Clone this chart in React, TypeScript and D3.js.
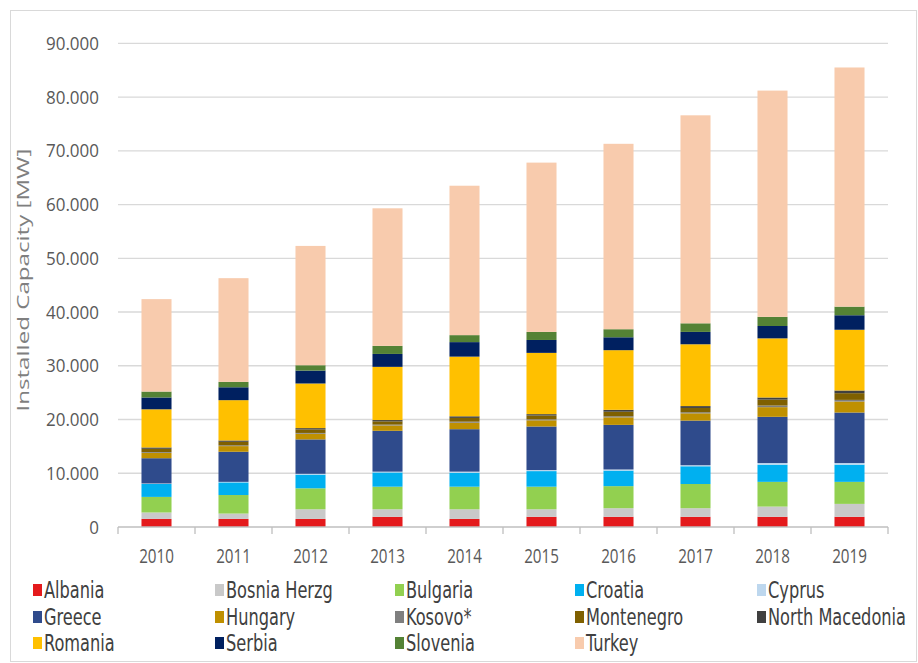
import { useEffect, useRef } from 'react'
import * as d3 from 'd3'

const years = ['2010', '2011', '2012', '2013', '2014', '2015', '2016', '2017', '2018', '2019']

// installed capacity per country, MW
const albania = [1500, 1500, 1500, 1900, 1500, 1900, 1900, 1900, 1900, 1900]
const bosnia = [1200, 1000, 1800, 1400, 1800, 1400, 1600, 1600, 1900, 2400]
const bulgaria = [2900, 3450, 3900, 4200, 4200, 4200, 4100, 4500, 4600, 4100]
const croatia = [2400, 2350, 2550, 2650, 2600, 2900, 2900, 3300, 3200, 3200]
const cyprus = [100, 100, 150, 150, 200, 200, 200, 200, 300, 300]
const greece = [4700, 5600, 6400, 7600, 7900, 8100, 8300, 8300, 8600, 9400]
const hungary = [1000, 1050, 1050, 1000, 1200, 1150, 1400, 1350, 1800, 2050]
const kosovo = [150, 150, 150, 150, 200, 200, 200, 200, 300, 300]
const montenegro = [600, 650, 650, 600, 700, 700, 850, 800, 1100, 1250]
const northMacedonia = [250, 250, 250, 250, 300, 250, 350, 350, 400, 500]
const romania = [7100, 7500, 8300, 9900, 11100, 11400, 11100, 11500, 11000, 11300]
const serbia = [2200, 2400, 2400, 2400, 2700, 2400, 2400, 2300, 2300, 2700]
const slovenia = [1100, 1000, 1000, 1500, 1300, 1500, 1500, 1600, 1700, 1600]
const turkey = [17200, 19300, 22200, 25600, 27800, 31500, 34500, 38700, 42100, 44500]

const yTicks = [0, 10000, 20000, 30000, 40000, 50000, 60000, 70000, 80000, 90000]

const series = [
  { name: 'Albania', values: albania, color: '#e41a1c' },
  { name: 'Bosnia Herzg', values: bosnia, color: '#c9c9c9' },
  { name: 'Bulgaria', values: bulgaria, color: '#92d050' },
  { name: 'Croatia', values: croatia, color: '#00b0f0' },
  { name: 'Cyprus', values: cyprus, color: '#bdd7ee' },
  { name: 'Greece', values: greece, color: '#2f4b8c' },
  { name: 'Hungary', values: hungary, color: '#bf9000' },
  { name: 'Kosovo*', values: kosovo, color: '#7f7f7f' },
  { name: 'Montenegro', values: montenegro, color: '#7f6000' },
  { name: 'North Macedonia', values: northMacedonia, color: '#404040' },
  { name: 'Romania', values: romania, color: '#ffc000' },
  { name: 'Serbia', values: serbia, color: '#002060' },
  { name: 'Slovenia', values: slovenia, color: '#548235' },
  { name: 'Turkey', values: turkey, color: '#f8cbad' },
]

const W = 918
const H = 663

export default function App() {
  const svgRef = useRef<SVGSVGElement>(null)

  useEffect(() => {
    if (!svgRef.current) return
    const svg = d3.select(svgRef.current)
    svg.selectAll('*').remove()

    const margin = { top: 43.3, right: 30, bottom: 136, left: 118 }
    const x = d3.scaleBand()
      .domain(years)
      .range([margin.left, W - margin.right])
      .paddingInner(0.61)
      .paddingOuter(0.305)
    const y = d3.scaleLinear()
      .domain([0, 90000])
      .range([H - margin.bottom, margin.top])

    const locale = d3.formatLocale({ decimal: ',', thousands: '.', grouping: [3], currency: ['', ''] })
    const fmt = locale.format(',')

    // outer frame
    svg.append('rect')
      .attr('x', 10.5).attr('y', 10.5)
      .attr('width', W - 12).attr('height', H - 12)
      .attr('fill', 'white')
      .attr('stroke', '#d9d9d9')

    // gridlines
    svg.append('g')
      .selectAll('line')
      .data(yTicks.slice(1))
      .join('line')
      .attr('x1', margin.left).attr('x2', W - margin.right)
      .attr('y1', d => y(d)).attr('y2', d => y(d))
      .attr('stroke', '#d9d9d9')
      .attr('stroke-width', 1.3)

    // stacked bars
    const table = years.map((yr, i) => {
      const row: Record<string, any> = { year: yr }
      series.forEach(s => { row[s.name] = s.values[i] })
      return row
    })
    const stacked = d3.stack().keys(series.map(s => s.name))(table as any)

    svg.append('g')
      .selectAll('g')
      .data(stacked)
      .join('g')
      .attr('fill', (_, i) => series[i].color)
      .selectAll('rect')
      .data(d => d)
      .join('rect')
      .attr('x', d => x((d.data as any).year)!)
      .attr('width', x.bandwidth())
      .attr('y', d => y(d[1]))
      .attr('height', d => y(d[0]) - y(d[1]))

    // x axis line and ticks at category boundaries
    const base = y(0)
    svg.append('line')
      .attr('x1', margin.left).attr('x2', W - margin.right)
      .attr('y1', base).attr('y2', base)
      .attr('stroke', '#bfbfbf').attr('stroke-width', 1.3)
    const step = x.step()
    const bounds = d3.range(years.length + 1).map(i => margin.left + i * step)
    svg.append('g')
      .selectAll('line')
      .data(bounds)
      .join('line')
      .attr('x1', d => d).attr('x2', d => d)
      .attr('y1', base).attr('y2', base + 7)
      .attr('stroke', '#bfbfbf').attr('stroke-width', 1.3)

    svg.append('g')
      .selectAll('text')
      .data(years)
      .join('text')
      .attr('transform', d => `translate(${x(d)! + x.bandwidth() / 2}, ${base + 29}) scale(0.95, 1.2)`)
      .attr('text-anchor', 'middle')
      .attr('dy', '0.35em')
      .style('font-family', '"Open Sans", sans-serif')
      .style('font-size', '16px')
      .style('fill', '#595959')
      .text(d => d)

    // y tick labels
    svg.append('g')
      .selectAll('text')
      .data(yTicks)
      .join('text')
      .attr('transform', d => `translate(99, ${y(d)}) scale(1, 1.12)`)
      .attr('dy', '0.35em')
      .attr('text-anchor', 'end')
      .style('font-family', '"Open Sans", sans-serif')
      .style('font-size', '17px')
      .style('fill', '#595959')
      .text(d => fmt(d))

    // y axis title
    svg.append('text')
      .attr('transform', `translate(23, ${(base + margin.top) / 2 - 5}) rotate(-90) scale(1.42, 1)`)
      .attr('text-anchor', 'middle')
      .attr('dy', '0.35em')
      .style('font-family', '"Open Sans", sans-serif')
      .style('font-size', '17px')
      .style('fill', '#7f7f7f')
      .text('Installed Capacity [MW]')

    // legend
    const colX = [33, 215, 395, 575, 757]
    const rowY = [590, 617, 643]
    const legend = svg.append('g')
    series.forEach((s, i) => {
      const cx = colX[i % 5]
      const cy = rowY[Math.floor(i / 5)]
      const item = legend.append('g').attr('transform', `translate(${cx}, ${cy})`)
      item.append('rect')
        .attr('x', 0).attr('y', -6)
        .attr('width', 9).attr('height', 12)
        .attr('fill', s.color)
      item.append('text')
        .attr('transform', 'translate(11, 0) scale(1, 1.25)')
        .attr('dy', '0.35em')
        .style('font-family', '"DejaVu Sans Condensed", sans-serif')
        .style('font-size', '18px')
        .style('fill', '#404040')
        .text(s.name)
    })
  }, [])

  return (
    <div style={{ position: 'absolute', left: 0, top: 0, width: W, height: H }}>
      <svg ref={svgRef} width={W} height={H} style={{ display: 'block', background: 'white' }} />
    </div>
  )
}
